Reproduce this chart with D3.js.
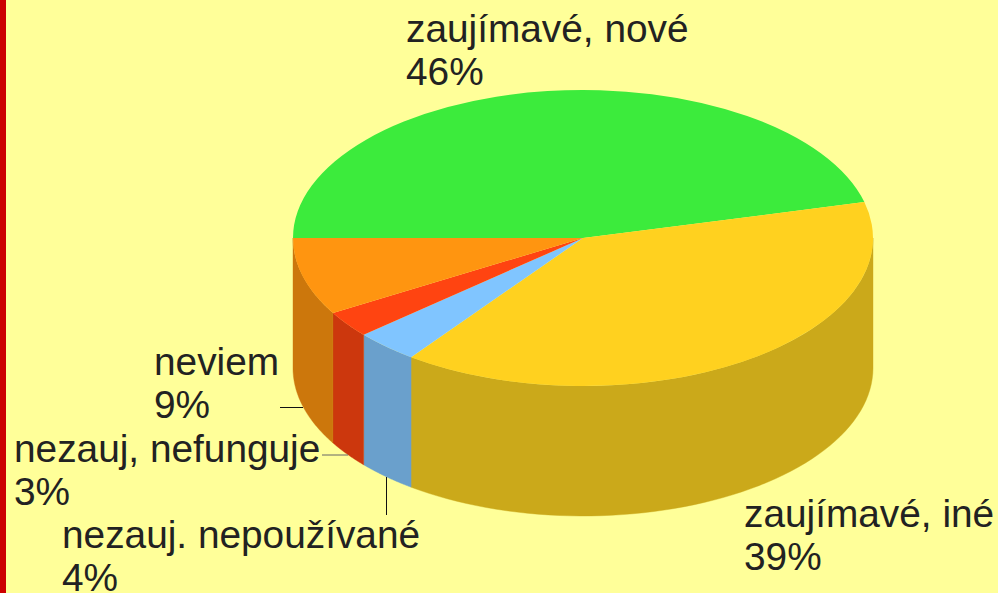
<!DOCTYPE html>
<html>
<head>
<meta charset="utf-8">
<style>
html,body{margin:0;padding:0;background:#FFFF99;overflow:hidden}
svg{display:block}
text{font-family:"Liberation Sans",Arial,sans-serif;font-size:38.8px;fill:#222}
</style>
<script src="https://cdn.jsdelivr.net/npm/d3@7/dist/d3.min.js"></script>
</head>
<body>
<svg id="chart" width="998" height="593"></svg>
<script>
// Data
const categories = ["zaujímavé, nové", "zaujímavé, iné", "nezauj. nepoužívané", "nezauj, nefunguje", "neviem"];
const shares = [46.1, 39.0, 3.55, 2.9, 8.45];
const percentLabels = ["46%", "39%", "4%", "3%", "9%"];

// Style and layout, separate from the data
const colors = ["#3CEB3C", "#FFD11F", "#80C5FF", "#FF4411", "#FF9510"];
const wallColors = [null, "#CBA91A", "#6AA0CC", "#CC370D", "#CC770C"];
const labelPlaces = [[406, 42], [744, 527], [62, 548], [14, 462], [154, 375]];
const leaders = [
  {x1: 280, y1: 407.5, x2: 303, y2: 407.5, stroke: "#111"},
  {x1: 322, y1: 455, x2: 348, y2: 455, stroke: "#666"},
  {x1: 386.5, y1: 477, x2: 386.5, y2: 515, stroke: "#111"}
];
const W = 998, H = 593, cx = 583, cy = 238, rx = 290, ry = 148, depth = 130, lineGap = 42.5;

const svg = d3.select("#chart");
svg.append("rect").attr("width", W).attr("height", H).attr("fill", "#FFFF99");
svg.append("rect").attr("width", 6).attr("height", H).attr("fill", "#CC0000");

// Angles measured clockwise from straight up (d3 convention); the pie starts at the left edge.
const pie = d3.pie().sort(null).value(d => d).startAngle(-Math.PI / 2).endAngle(1.5 * Math.PI);
const slices = pie(shares);

const px = a => cx + rx * Math.sin(a);
const py = a => cy - ry * Math.cos(a);

// Side walls: only the front half of the rim (angles PI/2 .. 3PI/2) is visible.
const frontStart = Math.PI / 2, frontEnd = 1.5 * Math.PI;
slices.forEach((s, i) => {
  const a0 = Math.max(s.startAngle, frontStart), a1 = Math.min(s.endAngle, frontEnd);
  if (a1 <= a0) return;
  const steps = d3.range(0, 61).map(k => a0 + (a1 - a0) * k / 60);
  const top = steps.map(a => [px(a), py(a)]);
  const bottom = steps.slice().reverse().map(a => [px(a), py(a) + depth]);
  svg.append("path")
    .attr("d", d3.line()(top.concat(bottom)) + "Z")
    .attr("fill", wallColors[i])
    .attr("stroke", wallColors[i])
    .attr("stroke-width", 0.4);
});

// Top face: a flat pie, squashed vertically.
const arc = d3.arc().innerRadius(0).outerRadius(rx);
svg.append("g")
  .attr("transform", `translate(${cx},${cy}) scale(1,${ry / rx})`)
  .selectAll("path")
  .data(slices)
  .join("path")
  .attr("d", arc)
  .attr("fill", (d, i) => colors[i]);

// Leader lines
svg.selectAll("line.leader")
  .data(leaders)
  .join("line")
  .attr("class", "leader")
  .attr("x1", d => d.x1).attr("y1", d => d.y1)
  .attr("x2", d => d.x2).attr("y2", d => d.y2)
  .attr("stroke", d => d.stroke)
  .attr("stroke-width", 1);

// Labels
categories.forEach((c, i) => {
  const [x, y] = labelPlaces[i];
  const t = svg.append("text").attr("x", x).attr("y", y);
  t.append("tspan").attr("x", x).text(c);
  t.append("tspan").attr("x", x).attr("y", y + lineGap).text(percentLabels[i]);
});
</script>
</body>
</html>
